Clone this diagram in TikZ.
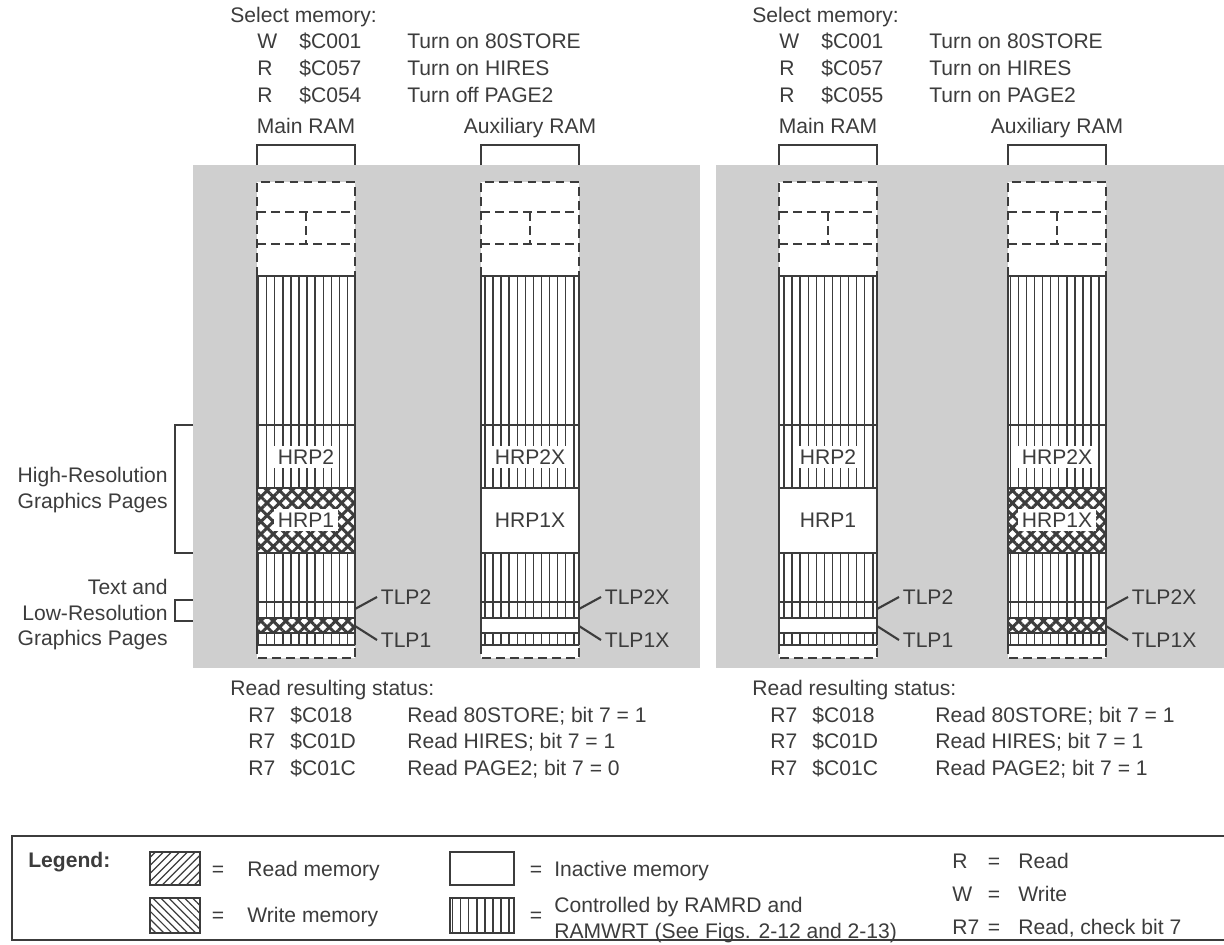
\documentclass[tikz,border=0pt]{standalone}
\usepackage{fontspec}
\setmainfont{Liberation Sans}
\usetikzlibrary{patterns.meta}
\definecolor{panelgray}{RGB}{207,207,207}
\definecolor{inkgray}{RGB}{60,60,60}

% one memory column: #1 left edge, #2 name, #3 page suffix, #4 style of page 1, #5 title
\newcommand{\memcolumn}[5]{%
  \fill[white] (#1,182) rectangle ({#1+98},658);
  \foreach \ya/\yb in {276/425, 425/488, 553/602, 602/618, 633/645}
    \fill[stripes] (#1,\ya) rectangle ({#1+98},\yb);
  \fill[#4] (#1,488) rectangle ({#1+98},553);
  \fill[#4] (#1,618) rectangle ({#1+98},633);
  % solid outline and dividers
  \draw[memline] (#1,276) -- (#1,645) ({#1+98},276) -- ({#1+98},645);
  \foreach \y in {276,425,488,553,602,618,633,645}
    \draw[memline] (#1,\y) -- ({#1+98},\y);
  % dashed parts
  \draw[memline, dashpat] (#1,276) -- (#1,182) -- ({#1+98},182) -- ({#1+98},276);
  \draw[memline, dashpat] (#1,212) -- ({#1+98},212) (#1,244) -- ({#1+98},244) ({#1+49},212) -- ({#1+49},244);
  \draw[memline, dashpat] (#1,645) -- (#1,658) -- ({#1+98},658) -- ({#1+98},645);
  % bracket and title
  \draw[memline] (#1,165) -- (#1,145) -- ({#1+98},145) -- ({#1+98},165);
  \node[txt, anchor=center] (#2-title) at ({#1+49},128) {#5};
  % page labels
  \node[pagelabel] (#2-hrp2) at ({#1+49},457) {HRP2#3};
  \node[pagelabel] (#2-hrp1) at ({#1+49},520) {HRP1#3};
  \coordinate (#2-t2) at ({#1+98},609);
  \coordinate (#2-t1) at ({#1+98},626);
  \node[anchor=west, inner sep=2pt] (#2-tlp2) at ({#1+120},597) {TLP2#3};
  \node[anchor=west, inner sep=2pt] (#2-tlp1) at ({#1+120},640) {TLP1#3};
  \draw[memline] (#2-t2) -- (#2-tlp2.west);
  \draw[memline] (#2-t1) -- (#2-tlp1.west);
}

\begin{document}
\begin{tikzpicture}[x=0.02cm, y=-0.02cm, color=inkgray,
    every node/.style={font=\fontsize{12}{14.5}\selectfont},
    txt/.style={anchor=west, inner sep=0pt, text height=8.6pt, text depth=2.5pt},
    memline/.style={line width=1.2pt},
    dashpat/.style={dash pattern=on 5pt off 3pt},
    pagelabel/.style={fill=white, inner sep=2pt},
    stripes/.style={pattern={Lines[angle=90,distance=4.6pt,line width=0.8pt]}, pattern color=inkgray},
    activemem/.style={pattern={Hatch[angle=45,distance=5pt,line width=1.7pt]}, pattern color=inkgray},
    inactivemem/.style={fill=white}]
  \useasboundingbox (0,0) rectangle (1224,944);

  % Panels
  \fill[panelgray] (193,165) rectangle (700,668);
  \fill[panelgray] (716,165) rectangle (1224,668);

  % Columns
  \memcolumn{257}{lmain}{}{activemem}{Main RAM}
  \memcolumn{481}{laux}{X}{inactivemem}{Auxiliary RAM}
  \memcolumn{779}{rmain}{}{inactivemem}{Main RAM}
  \memcolumn{1008}{raux}{X}{activemem}{Auxiliary RAM}

  % Brackets on the left
  \draw[memline] (193,425) -- (175,425) -- (175,553) -- (193,553);
  \node[anchor=east, align=right, inner sep=0pt] (hires) at (168,490) {High-Resolution\\Graphics Pages};
  \draw[memline] (193,600) -- (175,600) -- (175,621) -- (193,621);
  \node[anchor=east, align=right, inner sep=0pt] (lores) at (168,615) {Text and\\Low-Resolution\\Graphics Pages};

  % Select memory, left
  \node[txt] (selA) at (230,17) {Select memory:};
  \node[txt] (selA-op1) at (257,43) {W};
  \node[txt] (selA-ad1) at (299,43) {\$C001};
  \node[txt] (selA-tx1) at (407,43) {Turn on 80STORE};
  \node[txt] (selA-op2) at (257,70) {R};
  \node[txt] (selA-ad2) at (299,70) {\$C057};
  \node[txt] (selA-tx2) at (407,70) {Turn on HIRES};
  \node[txt] (selA-op3) at (257,97) {R};
  \node[txt] (selA-ad3) at (299,97) {\$C054};
  \node[txt] (selA-tx3) at (407,97) {Turn off PAGE2};

  % Select memory, right
  \node[txt] (selB) at (752,17) {Select memory:};
  \node[txt] (selB-op1) at (779,43) {W};
  \node[txt] (selB-ad1) at (821,43) {\$C001};
  \node[txt] (selB-tx1) at (929,43) {Turn on 80STORE};
  \node[txt] (selB-op2) at (779,70) {R};
  \node[txt] (selB-ad2) at (821,70) {\$C057};
  \node[txt] (selB-tx2) at (929,70) {Turn on HIRES};
  \node[txt] (selB-op3) at (779,97) {R};
  \node[txt] (selB-ad3) at (821,97) {\$C055};
  \node[txt] (selB-tx3) at (929,97) {Turn on PAGE2};

  % Resulting status, left
  \node[txt] (stA) at (230,690) {Read resulting status:};
  \node[txt] (stA-op1) at (248,717) {R7};
  \node[txt] (stA-ad1) at (290,717) {\$C018};
  \node[txt] (stA-tx1) at (407,717) {Read 80STORE; bit 7 = 1};
  \node[txt] (stA-op2) at (248,743) {R7};
  \node[txt] (stA-ad2) at (290,743) {\$C01D};
  \node[txt] (stA-tx2) at (407,743) {Read HIRES; bit 7 = 1};
  \node[txt] (stA-op3) at (248,770) {R7};
  \node[txt] (stA-ad3) at (290,770) {\$C01C};
  \node[txt] (stA-tx3) at (407,770) {Read PAGE2; bit 7 = 0};

  % Resulting status, right
  \node[txt] (stB) at (752,690) {Read resulting status:};
  \node[txt] (stB-op1) at (770,717) {R7};
  \node[txt] (stB-ad1) at (812,717) {\$C018};
  \node[txt] (stB-tx1) at (935,717) {Read 80STORE; bit 7 = 1};
  \node[txt] (stB-op2) at (770,743) {R7};
  \node[txt] (stB-ad2) at (812,743) {\$C01D};
  \node[txt] (stB-tx2) at (935,743) {Read HIRES; bit 7 = 1};
  \node[txt] (stB-op3) at (770,770) {R7};
  \node[txt] (stB-ad3) at (812,770) {\$C01C};
  \node[txt] (stB-tx3) at (935,770) {Read PAGE2; bit 7 = 1};

  % Legend
  \draw[memline] (1224,836) -- (12,836) -- (12,940) -- (1224,940);
  \node[txt, font=\fontsize{12}{14.5}\selectfont\bfseries] (leg) at (28,862) {Legend:};
  \draw[memline, pattern={Lines[angle=45,distance=3.2pt,line width=0.7pt]}, pattern color=inkgray] (150,852) rectangle (200,885);
  \node (leg-eq1) at (218,871) {=};
  \node[txt] (leg-read) at (247,871) {Read memory};
  \draw[memline, pattern={Lines[angle=-45,distance=3.2pt,line width=0.7pt]}, pattern color=inkgray] (150,898) rectangle (200,933);
  \node (leg-eq2) at (218,917) {=};
  \node[txt] (leg-write) at (247,917) {Write memory};
  \draw[memline, fill=white] (450,852) rectangle (514,885);
  \node (leg-eq3) at (536,871) {=};
  \node[txt] (leg-inact) at (554,871) {Inactive memory};
  \draw[memline, stripes] (450,898) rectangle (514,933);
  \node (leg-eq4) at (536,917) {=};
  \node[anchor=west, inner sep=0pt, align=left] (leg-ctrl) at (554,920) {Controlled by RAMRD and\\RAMWRT (See Figs. 2-12 and 2-13)};
  \node[txt] (leg-r) at (952,863) {R};
  \node (leg-eq5) at (994,863) {=};
  \node[txt] (leg-rd) at (1018,863) {Read};
  \node[txt] (leg-w) at (952,896) {W};
  \node (leg-eq6) at (994,896) {=};
  \node[txt] (leg-wr) at (1018,896) {Write};
  \node[txt] (leg-r7) at (952,929) {R7};
  \node (leg-eq7) at (994,929) {=};
  \node[txt] (leg-chk) at (1018,929) {Read, check bit 7};
\end{tikzpicture}
\end{document}
